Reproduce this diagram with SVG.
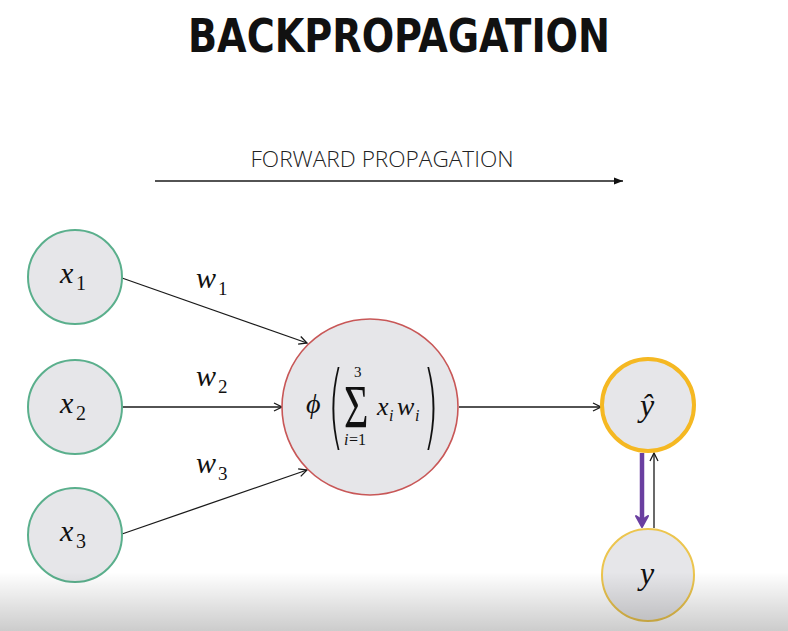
<svg xmlns="http://www.w3.org/2000/svg" width="788" height="631" viewBox="0 0 788 631">
<defs>
<style>
.node{fill:#e6e6e9;}
.in{stroke:#5aaf8c;stroke-width:2;}
.conn line{stroke:#1a1a1a;stroke-width:1.3;}
.m{font-family:"Liberation Serif","DejaVu Serif",serif;font-style:italic;fill:#111;}
.sub{font-family:"Liberation Serif","DejaVu Serif",serif;fill:#111;}
.par{font-family:"DejaVu Sans","Liberation Sans",sans-serif;font-weight:200;fill:#111;}
</style>
<marker id="open" viewBox="0 0 10 10" refX="9" refY="5" markerWidth="10" markerHeight="10" markerUnits="userSpaceOnUse" orient="auto">
<path d="M1,1 L9,5 L1,9" fill="none" stroke="#1a1a1a" stroke-width="1.3"/>
</marker>
<marker id="solid" viewBox="0 0 10 10" refX="10" refY="5" markerWidth="10" markerHeight="9" markerUnits="userSpaceOnUse" orient="auto">
<path d="M0,1 L10,5 L0,9 Z" fill="#111"/>
</marker>
<linearGradient id="shade" x1="0" y1="0" x2="0" y2="1">
<stop offset="0" stop-color="#000" stop-opacity="0"/>
<stop offset="1" stop-color="#000" stop-opacity="0.2"/>
</linearGradient>
</defs>
<rect width="788" height="631" fill="#ffffff"/>
<text x="399" y="52" text-anchor="middle" font-family="'DejaVu Sans Condensed','DejaVu Sans',sans-serif" font-weight="bold" font-size="46" textLength="422" lengthAdjust="spacingAndGlyphs" fill="#111">BACKPROPAGATION</text>
<text x="382" y="167" text-anchor="middle" font-family="'Open Sans','Liberation Sans',sans-serif" font-weight="300" font-size="22" textLength="263" lengthAdjust="spacingAndGlyphs" fill="#222">FORWARD PROPAGATION</text>

<g id="connectors" class="conn">
<line x1="155" y1="181" x2="623" y2="181" marker-end="url(#solid)"/>
<line x1="122" y1="278" x2="307" y2="343" marker-end="url(#open)"/>
<line x1="122" y1="407" x2="282" y2="407" marker-end="url(#open)"/>
<line x1="122" y1="534" x2="307" y2="470" marker-end="url(#open)"/>
<line x1="459" y1="407" x2="601" y2="407" marker-end="url(#open)"/>
<line x1="654" y1="528" x2="654" y2="453" marker-end="url(#open)"/>
<line x1="642" y1="453" x2="642" y2="521" style="stroke:#6a3fa0;stroke-width:4.5"/>
<path d="M636,516 L642,527 L648,516 L642,520 Z" fill="#6a3fa0" stroke="#6a3fa0" stroke-width="2" stroke-linejoin="round"/>
</g>

<g id="x1">
<circle class="node in" cx="75" cy="277" r="47"/>
<text class="m" x="60" y="283" font-size="30">x</text>
<text class="sub" x="76" y="290" font-size="20">1</text>
</g>
<g id="x2">
<circle class="node in" cx="75" cy="407" r="47"/>
<text class="m" x="60" y="413" font-size="30">x</text>
<text class="sub" x="76" y="420" font-size="20">2</text>
</g>
<g id="x3">
<circle class="node in" cx="75" cy="535" r="47"/>
<text class="m" x="60" y="541" font-size="30">x</text>
<text class="sub" x="76" y="548" font-size="20">3</text>
</g>

<g id="weights">
<text class="m" x="196" y="288" font-size="30">w</text>
<text class="sub" x="218" y="295" font-size="19">1</text>
<text class="m" x="196" y="386" font-size="30">w</text>
<text class="sub" x="218" y="393" font-size="19">2</text>
<text class="m" x="196" y="473" font-size="30">w</text>
<text class="sub" x="218" y="480" font-size="19">3</text>
</g>

<g id="sum">
<circle class="node" cx="370" cy="407" r="88" stroke="#c85757" stroke-width="1.6"/>
<text class="m" x="306" y="413" font-size="28">ϕ</text>
<text class="par" transform="translate(328,438) scale(1,2.3)" font-size="40">(</text>
<text class="par" transform="translate(423,438) scale(1,2.3)" font-size="40">)</text>
<text class="sub" transform="translate(344,427) scale(1,1.45)" font-size="42">Σ</text>
<text class="sub" x="354" y="377" font-size="15">3</text>
<text class="m" x="344" y="445" font-size="16">i</text>
<text class="sub" x="349" y="445" font-size="16">=1</text>
<text class="m" x="377" y="415" font-size="26">x</text>
<text class="m" x="389" y="421" font-size="16">i</text>
<text class="m" x="397" y="415" font-size="26">w</text>
<text class="m" x="415" y="421" font-size="16">i</text>
</g>

<g id="yhat">
<circle class="node" cx="648" cy="405" r="46" stroke="#f5b822" stroke-width="4"/>
<text class="m" x="647" y="416" font-size="32" text-anchor="middle">ŷ</text>
</g>
<g id="y">
<circle class="node" cx="648" cy="575" r="46" stroke="#ecc54e" stroke-width="2"/>
<text class="m" x="647" y="584" font-size="32" text-anchor="middle">y</text>
</g>

<rect x="0" y="572" width="788" height="59" fill="url(#shade)"/>
</svg>
